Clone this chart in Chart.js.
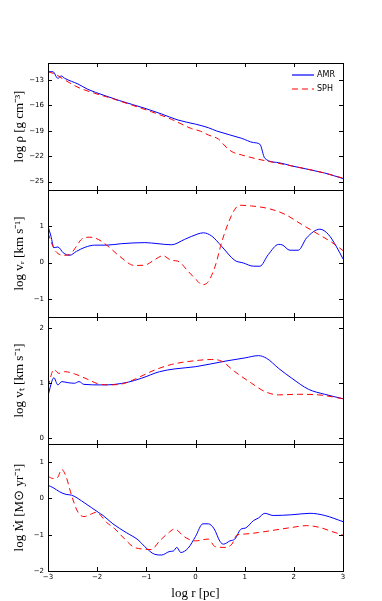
<!DOCTYPE html>
<html>
<head>
<meta charset="utf-8">
<script src="https://cdn.jsdelivr.net/npm/chart.js"></script>
<style>
  body { margin: 0; background: #fff; }
  #wrap { position: relative; width: 382px; height: 601px; }
  canvas { position: absolute; left: 0; top: 0; }
</style>
</head>
<body>
<div id="wrap">
  <canvas id="c1" width="382" height="601"></canvas>
  <canvas id="c2" width="382" height="601"></canvas>
  <canvas id="c3" width="382" height="601"></canvas>
  <canvas id="c4" width="382" height="601"></canvas>
</div>
<script>
// x axis (log r [pc]) shared by all panels
const xTicks = [-3, -2, -1, 0, 1, 2, 3];

// density, log rho [g cm^-3]
const rhoTicks = [-25, -22, -19, -16, -13];
const rhoAmr = [[-3,-12.03],[-2.9,-12.03],[-2.8,-12.81],[-2.73,-12.53],[-2.66,-12.81],[-2.39,-13.48],[-2.19,-14.11],[-1.88,-14.78],[-1.54,-15.45],[-1.03,-16.35],[-0.69,-17.02],[-0.36,-17.73],[0,-18.22],[0.26,-18.64],[0.43,-19.03],[0.94,-19.9],[1.18,-20.4],[1.31,-20.6],[1.41,-22.25],[1.69,-22.77],[1.96,-23.16],[2.63,-24.0],[3,-24.65]];
const rhoSph = [[-3,-12.03],[-2.86,-12.3],[-2.66,-13.0],[-2.39,-13.87],[-2.05,-14.58],[-1.71,-15.17],[-1.3,-15.96],[-0.9,-16.75],[-0.49,-17.65],[-0.08,-18.75],[0.1,-19.05],[0.26,-19.5],[0.47,-20.0],[0.6,-20.8],[0.74,-21.47],[0.94,-21.86],[1.28,-22.37],[1.62,-22.77],[1.96,-23.16],[2.63,-24.0],[3,-24.6]];

// radial velocity, log v_r [km s^-1]
const vrTicks = [-1, 0, 1];
const vrAmr = [[-3,1.0],[-2.94,0.73],[-2.88,0.41],[-2.8,0.43],[-2.69,0.27],[-2.56,0.2],[-2.42,0.31],[-2.25,0.42],[-2.05,0.48],[-1.81,0.48],[-1.51,0.52],[-1.03,0.55],[-0.76,0.52],[-0.49,0.49],[-0.22,0.64],[0.05,0.79],[0.16,0.82],[0.33,0.73],[0.53,0.45],[0.8,0.06],[0.97,-0.01],[1.18,-0.1],[1.31,-0.1],[1.48,0.22],[1.69,0.5],[1.76,0.49],[1.92,0.34],[2.09,0.34],[2.26,0.68],[2.53,0.92],[2.7,0.78],[2.87,0.43],[3,0.1]];
const vrSph = [[-3,0.82],[-2.93,0.55],[-2.86,0.34],[-2.69,0.2],[-2.56,0.22],[-2.42,0.45],[-2.32,0.64],[-2.15,0.7],[-1.98,0.64],[-1.78,0.45],[-1.54,0.17],[-1.24,-0.08],[-1.03,-0.07],[-0.83,0.08],[-0.66,0.19],[-0.49,0.06],[-0.36,0.04],[-0.15,-0.24],[0.05,-0.52],[0.13,-0.61],[0.23,-0.57],[0.4,-0.1],[0.53,0.55],[0.67,1.1],[0.8,1.47],[0.9,1.58],[1.14,1.56],[1.48,1.49],[1.82,1.33],[2.16,1.05],[2.5,0.78],[2.77,0.56],[3,0.33]];

// tangential velocity, log v_t [km s^-1]
const vtTicks = [0, 1, 2];
const vtAmr = [[-3,0.78],[-2.88,1.1],[-2.8,0.97],[-2.72,1.03],[-2.59,1.01],[-2.46,1.0],[-2.37,1.03],[-2.27,0.98],[-1.91,0.97],[-1.64,0.98],[-1.37,1.02],[-1.1,1.09],[-0.73,1.21],[-0.42,1.26],[0,1.3],[0.6,1.4],[1.01,1.46],[1.28,1.5],[1.45,1.45],[1.69,1.27],[1.96,1.09],[2.3,0.89],[2.63,0.8],[3,0.72]];
const vtSph = [[-3,0.94],[-2.88,1.25],[-2.78,1.18],[-2.66,1.21],[-2.46,1.17],[-2.19,1.07],[-1.98,0.99],[-1.71,0.97],[-1.44,1.0],[-1.17,1.1],[-0.83,1.24],[-0.49,1.34],[0,1.41],[0.33,1.43],[0.53,1.4],[0.8,1.21],[1.14,1.0],[1.41,0.85],[1.69,0.79],[2.09,0.8],[2.5,0.79],[3,0.72]];

// accretion rate, log Mdot [Msun yr^-1]
const mdotTicks = [-2, -1, 0, 1];
const mdotAmr = [[-3,0.36],[-2.9,0.3],[-2.76,0.18],[-2.63,0.11],[-2.52,0.09],[-2.25,-0.13],[-1.98,-0.38],[-1.88,-0.47],[-1.68,-0.7],[-1.41,-0.94],[-1.17,-1.14],[-1.03,-1.33],[-0.83,-1.54],[-0.69,-1.56],[-0.52,-1.46],[-0.45,-1.45],[-0.38,-1.35],[-0.3,-1.49],[-0.15,-1.37],[0,-1.05],[0.15,-0.7],[0.26,-0.7],[0.38,-0.84],[0.5,-1.19],[0.57,-1.26],[0.7,-1.17],[0.8,-1.12],[0.93,-0.84],[1.01,-0.82],[1.18,-0.61],[1.28,-0.54],[1.41,-0.41],[1.58,-0.47],[1.96,-0.45],[2.33,-0.41],[2.63,-0.47],[3,-0.64]];
const mdotSph = [[-3,0.61],[-2.9,0.55],[-2.81,0.57],[-2.72,0.8],[-2.63,0.59],[-2.52,0.08],[-2.39,-0.38],[-2.27,-0.5],[-2.12,-0.43],[-2.02,-0.38],[-1.81,-0.66],[-1.64,-0.84],[-1.44,-1.12],[-1.27,-1.33],[-1.03,-1.4],[-0.9,-1.41],[-0.73,-1.17],[-0.56,-0.96],[-0.42,-0.84],[-0.29,-0.98],[-0.19,-1.09],[0,-1.17],[0.26,-1.12],[0.4,-1.33],[0.6,-1.35],[0.74,-1.26],[0.84,-1.01],[1.01,-0.98],[1.28,-0.94],[1.62,-0.87],[1.96,-0.8],[2.26,-0.75],[2.53,-0.8],[2.77,-0.91],[3,-1.01]];

const AMR_COLOR = 'rgb(0, 0, 255)';
const SPH_COLOR = 'rgb(255, 0, 0)';
const SPH_DASH = [6, 4];

const MINUS = '\u2212';
const fmt = v => (v < 0 ? MINUS + Math.abs(v) : String(v));

// box round the plot with inward ticks on all four sides
const framePlugin = {
  id: 'frame',
  afterDraw(chart, args, opts) {
    const { ctx, chartArea: a, scales } = chart;
    ctx.save();
    ctx.strokeStyle = '#000';
    ctx.lineWidth = 1;
    ctx.beginPath();
    xTicks.forEach(v => {
      const px = Math.round(scales.x.getPixelForValue(v)) + 0.5;
      ctx.moveTo(px, a.top); ctx.lineTo(px, a.top + 4);
      ctx.moveTo(px, a.bottom); ctx.lineTo(px, a.bottom - 4);
    });
    opts.ticks.forEach(v => {
      const py = Math.round(scales.y.getPixelForValue(v)) + 0.5;
      ctx.moveTo(a.left, py); ctx.lineTo(a.left + 4, py);
      ctx.moveTo(a.right, py); ctx.lineTo(a.right - 4, py);
    });
    ctx.stroke();
    ctx.strokeRect(a.left + 0.5, a.top + 0.5, a.right - a.left, a.bottom - a.top);
    ctx.restore();
  }
};

// legend inside the top panel, upper right
const boxLegend = {
  id: 'boxLegend',
  afterDraw(chart) {
    const ctx = chart.ctx;
    const items = [
      { text: 'AMR', color: AMR_COLOR, dash: [] },
      { text: 'SPH', color: SPH_COLOR, dash: SPH_DASH }
    ];
    items.forEach((it, i) => {
      const y = 75 + i * 14;
      ctx.save();
      ctx.lineWidth = 1.2;
      ctx.strokeStyle = it.color;
      ctx.setLineDash(it.dash);
      ctx.beginPath();
      ctx.moveTo(292, y);
      ctx.lineTo(314, y);
      ctx.stroke();
      ctx.restore();
      ctx.save();
      ctx.font = '8px "DejaVu Sans"';
      ctx.textBaseline = 'middle';
      ctx.fillStyle = '#000';
      ctx.fillText(it.text, 317, y);
      ctx.restore();
    });
  }
};

function series(points) {
  return points.map(p => ({ x: p[0], y: p[1] }));
}

function makePanel(id, top, bottom, yMin, yMax, yTicks, yTitle, amr, sph, isBottom) {
  const plugins = [framePlugin];
  if (id === 'c1') plugins.push(boxLegend);
  return new Chart(document.getElementById(id), {
    type: 'line',
    data: {
      datasets: [
        { label: 'AMR', data: series(amr), borderColor: AMR_COLOR, borderWidth: 1,
          pointRadius: 0, cubicInterpolationMode: 'monotone', fill: false, order: 1 },
        { label: 'SPH', data: series(sph), borderColor: SPH_COLOR, borderWidth: 1, borderDash: SPH_DASH,
          pointRadius: 0, cubicInterpolationMode: 'monotone', fill: false, order: 0 }
      ]
    },
    options: {
      responsive: false,
      animation: false,
      events: [],
      layout: { padding: { left: 0, right: 39, top: top, bottom: isBottom ? 0 : 601 - bottom } },
      plugins: { legend: { display: false }, tooltip: { enabled: false }, frame: { ticks: yTicks } },
      scales: {
        x: {
          type: 'linear', min: -3, max: 3,
          display: isBottom,
          grid: { display: false, drawTicks: false },
          border: { display: false },
          afterBuildTicks: s => { s.ticks = xTicks.map(v => ({ value: v })); },
          afterFit: s => { s.height = isBottom ? 30 : 0; },
          ticks: { padding: 2, color: '#000', font: { family: 'DejaVu Sans', size: 7 }, maxRotation: 0,
                   callback: v => fmt(v) },
          title: { display: true, text: 'log r [pc]', color: '#000', padding: 0,
                   font: { family: 'Liberation Serif', size: 13, lineHeight: 1.2 } }
        },
        y: {
          type: 'linear', min: yMin, max: yMax,
          grid: { display: false, drawTicks: false },
          border: { display: false },
          afterBuildTicks: s => { s.ticks = yTicks.map(v => ({ value: v })); },
          afterFit: s => { s.width = 48; },
          ticks: { padding: 4, color: '#000', font: { family: 'DejaVu Sans', size: 7 },
                   callback: v => fmt(v) },
          title: { display: true, text: yTitle, color: '#000', padding: { top: 12, bottom: 0 },
                   font: { family: 'Liberation Serif', size: 13, lineHeight: 1.2 } }
        }
      }
    },
    plugins: plugins
  });
}

makePanel('c1', 63, 190, -26, -11, rhoTicks, 'log \u03c1 [g cm\u207b\u00b3]', rhoAmr, rhoSph, false);
makePanel('c2', 190, 317, -1.5, 2, vrTicks, 'log v\u1d63 [km s\u207b\u00b9]', vrAmr, vrSph, false);
makePanel('c3', 317, 444, -0.1, 2.2, vtTicks, 'log v\u209c [km s\u207b\u00b9]', vtAmr, vtSph, false);
makePanel('c4', 444, 571, -2, 1.5, mdotTicks, 'log \u1e40 [M\u2299 yr\u207b\u00b9]', mdotAmr, mdotSph, true);
</script>
</body>
</html>
